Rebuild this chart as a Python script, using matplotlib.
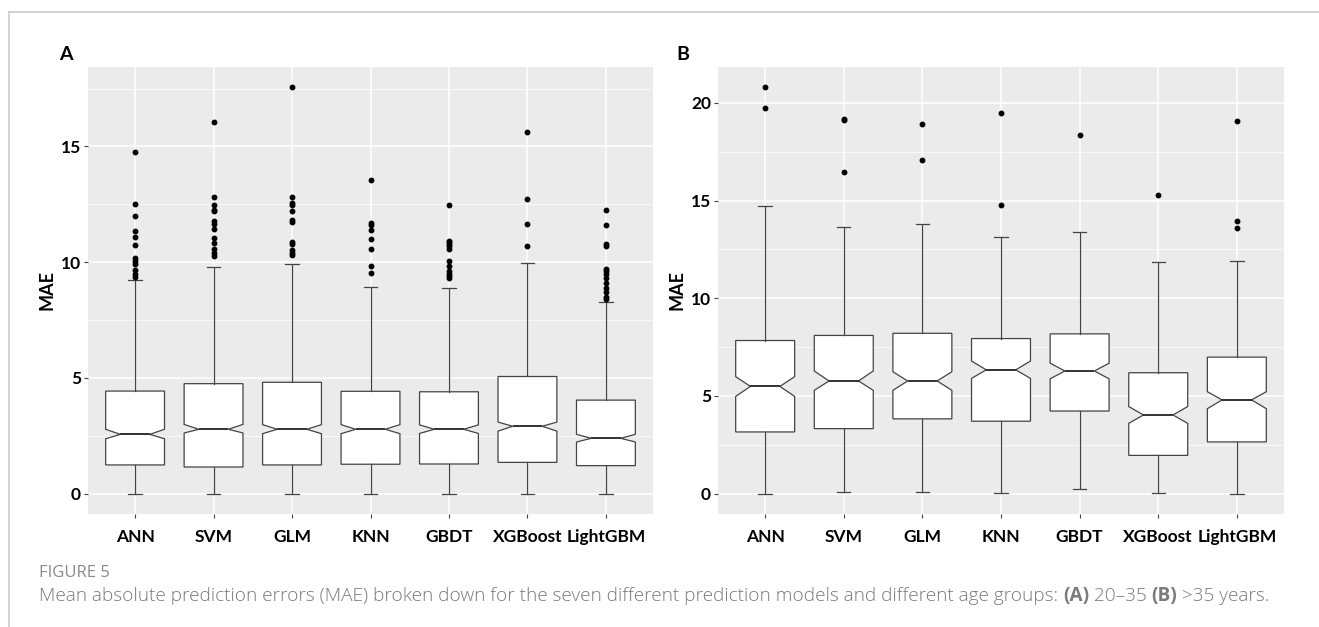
import matplotlib
matplotlib.use("Agg")
import matplotlib.pyplot as plt
from matplotlib.lines import Line2D
from matplotlib.ticker import MultipleLocator

models = ["ANN", "SVM", "GLM", "KNN", "GBDT", "XGBoost", "LightGBM"]

# panel A: age 20-35
a_q1 = [1.24, 1.15, 1.24, 1.27, 1.28, 1.35, 1.21]
a_med = [2.56, 2.78, 2.78, 2.78, 2.78, 2.91, 2.39]
a_q3 = [4.43, 4.75, 4.81, 4.42, 4.40, 5.06, 4.04]
a_cilo = [2.37, 2.62, 2.59, 2.59, 2.60, 2.70, 2.23]
a_cihi = [2.78, 2.99, 2.98, 2.98, 2.97, 3.09, 2.56]
a_lo = [0.0, 0.0, 0.0, 0.0, 0.0, 0.0, 0.0]
a_hi = [9.24, 9.81, 9.90, 8.92, 8.89, 9.96, 8.26]
a_fliers = [
    [14.74, 12.51, 11.98, 11.35, 11.08, 10.76, 10.17, 10.07, 9.9, 9.67, 9.5, 9.35],
    [16.05, 12.82, 12.49, 12.26, 12.2, 11.77, 11.65, 11.44, 11.06, 10.82, 10.57, 10.39, 10.26],
    [17.55, 12.82, 12.57, 12.49, 12.23, 11.83, 11.74, 10.88, 10.78, 10.53, 10.4, 10.33],
    [13.54, 11.7, 11.61, 11.41, 10.99, 10.57, 9.84, 9.54],
    [12.46, 10.93, 10.85, 10.78, 10.68, 10.57, 10.04, 9.83, 9.63, 9.5, 9.41, 9.3],
    [15.63, 12.74, 11.66, 10.71],
    [12.26, 11.61, 10.78, 10.68, 9.72, 9.61, 9.5, 9.3, 9.1, 8.9, 8.7, 8.5, 8.4],
]

# panel B: age > 35
b_q1 = [3.16, 3.33, 3.83, 3.71, 4.23, 1.96, 2.65]
b_med = [5.49, 5.77, 5.77, 6.34, 6.28, 4.03, 4.80]
b_q3 = [7.84, 8.10, 8.21, 7.94, 8.18, 6.19, 6.99]
b_cilo = [4.98, 5.29, 5.29, 5.90, 5.88, 3.60, 4.35]
b_cihi = [5.99, 6.28, 6.24, 6.79, 6.68, 4.46, 5.22]
b_lo = [0.0, 0.085, 0.10, 0.03, 0.24, 0.03, 0.0]
b_hi = [14.71, 13.67, 13.80, 13.14, 13.41, 11.84, 11.89]
b_fliers = [
    [20.8, 19.73],
    [19.2, 19.11, 16.45],
    [18.9, 17.09],
    [19.47, 14.8],
    [18.34],
    [15.31],
    [19.08, 13.94, 13.58],
]

plt.rcParams["font.family"] = ["Lato", "DejaVu Sans"]

fig = plt.figure(figsize=(13.19, 6.27), dpi=100)

# light frame around the figure
fig.add_artist(Line2D([9 / 1319, 1], [1 - 12 / 627, 1 - 12 / 627], color="#cccccc", lw=1.2))
fig.add_artist(Line2D([9 / 1319, 9 / 1319], [0, 1 - 12 / 627], color="#cccccc", lw=1.2))


def panel(rect, q1, med, q3, cilo, cihi, lo, hi, fliers, ylim, letter, lx):
    ax = fig.add_axes(rect)
    stats = []
    for i in range(len(models)):
        stats.append(dict(q1=q1[i], med=med[i], q3=q3[i], cilo=cilo[i], cihi=cihi[i],
                          whislo=lo[i], whishi=hi[i], fliers=fliers[i], label=models[i]))
    ax.bxp(stats, positions=range(1, 8), widths=0.75, capwidths=0.17, shownotches=True,
           patch_artist=True,
           boxprops=dict(facecolor="white", edgecolor="#444444", lw=0.9),
           medianprops=dict(color="#222222", lw=1.3),
           whiskerprops=dict(color="#444444", lw=0.9),
           capprops=dict(color="#444444", lw=0.9),
           flierprops=dict(marker="o", markersize=3.2, markerfacecolor="black",
                           markeredgecolor="black"))
    ax.set_facecolor("#ebebeb")
    ax.set_xlim(0.4, 7.6)
    ax.set_ylim(*ylim)
    ax.yaxis.set_major_locator(MultipleLocator(5))
    ax.yaxis.set_minor_locator(MultipleLocator(2.5))
    ax.grid(which="major", color="white", lw=1.1)
    ax.grid(which="minor", axis="y", color="white", lw=0.5)
    ax.set_axisbelow(True)
    for s in ax.spines.values():
        s.set_visible(False)
    ax.tick_params(which="major", length=3, width=0.8, color="#444444", pad=2,
                   labelsize=12.5, labelcolor="black")
    ax.tick_params(axis="x", pad=8)
    ax.tick_params(which="minor", length=0)
    ax.set_xticks(range(1, 8))
    ax.set_xticklabels(models, fontweight="bold")
    for t in ax.get_yticklabels():
        t.set_fontweight("bold")
    ax.set_ylabel("MAE", fontsize=13, fontweight="bold", labelpad=4)
    fig.text(lx, 1 - 55 / 627, letter, fontsize=14, fontweight="bold", va="center")
    return ax


panel([88 / 1319, 1 - 514 / 627, 565 / 1319, 447 / 627],
      a_q1, a_med, a_q3, a_cilo, a_cihi, a_lo, a_hi, a_fliers, (-0.88, 18.43), "A", 59 / 1319)
panel([718 / 1319, 1 - 514 / 627, 566 / 1319, 447 / 627],
      b_q1, b_med, b_q3, b_cilo, b_cihi, b_lo, b_hi, b_fliers, (-1.04, 21.84), "B", 676 / 1319)

fig.text(39 / 1319, 1 - 573 / 627, "FIGURE 5", fontsize=12, color="#8a8a8a",
         family=["Open Sans", "DejaVu Sans"], va="center")
cap_y = 1 - 596 / 627
cap_parts = [
    ("Mean absolute prediction errors (MAE) broken down for the seven different prediction models and different age groups: ", "light"),
    ("(A)", "bold"),
    (" 20\u201335 ", "light"),
    ("(B)", "bold"),
    (" >35 years.", "light"),
]
x = 39 / 1319
r = fig.canvas.get_renderer()
for txt, w in cap_parts:
    t = fig.text(x, cap_y, txt, fontsize=13.7, color="#7a7a7a", fontweight=w,
                 family=["Open Sans", "DejaVu Sans"], va="center")
    bb = t.get_window_extent(renderer=r)
    x += bb.width / fig.bbox.width

fig.savefig("out.png", dpi=100)
